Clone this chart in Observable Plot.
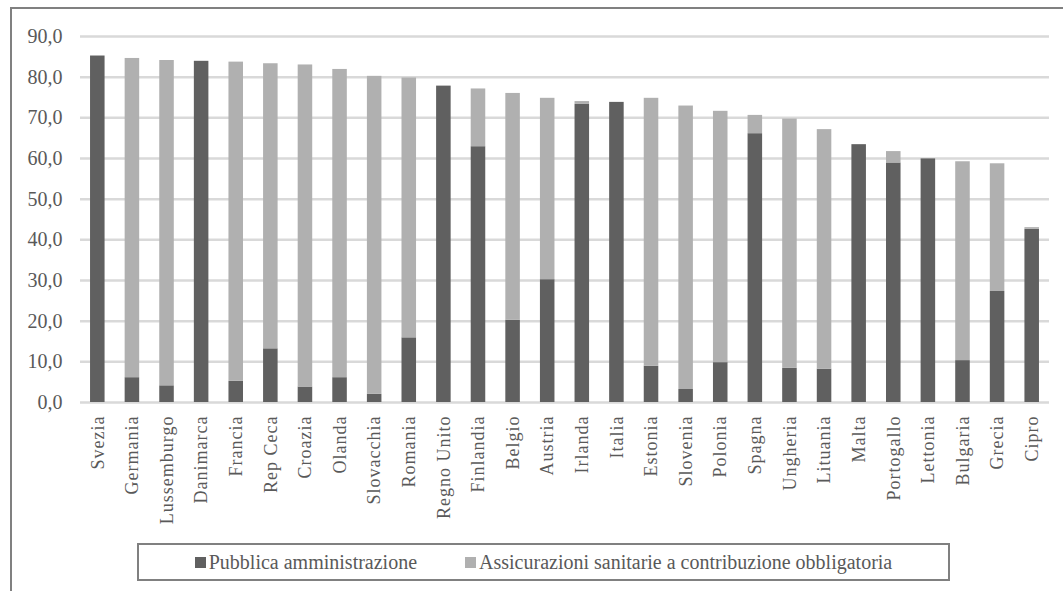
<!DOCTYPE html>
<html>
<head>
<meta charset="utf-8">
<script src="https://cdn.jsdelivr.net/npm/d3@7"></script>
<script src="https://cdn.jsdelivr.net/npm/@observablehq/plot@0.6"></script>
<style>
  html, body { margin: 0; padding: 0; background: #fff; }
  #wrap { position: relative; width: 1063px; height: 591px; overflow: hidden; font-family: "Liberation Serif", "Times New Roman", serif; }
  #frame { position: absolute; left: 10px; top: 7px; width: 1100px; height: 700px; border-left: 2px solid #808080; border-top: 2px solid #808080; box-sizing: border-box; }
  #chart { position: absolute; left: 0; top: 0; }
  #chart g[aria-label="x-axis tick label"] text { letter-spacing: 1px; }
  #legend { position: absolute; left: 137px; top: 543px; width: 813px; height: 38px; border: 2px solid #808080; box-sizing: border-box; display: flex; align-items: center; justify-content: center; gap: 48px; font-size: 20px; color: #595959; background: #fff; }
  .item { display: flex; align-items: center; }
  .sw { width: 11px; height: 11px; margin-right: 3px; }
</style>
</head>
<body>
<div id="wrap">
  <div id="frame"></div>
  <div id="chart"></div>
  <div id="legend"></div>
</div>
<script>
const countries = ["Svezia","Germania","Lussemburgo","Danimarca","Francia","Rep Ceca","Croazia","Olanda","Slovacchia","Romania","Regno Unito","Finlandia","Belgio","Austria","Irlanda","Italia","Estonia","Slovenia","Polonia","Spagna","Ungheria","Lituania","Malta","Portogallo","Lettonia","Bulgaria","Grecia","Cipro"];
const pubblica = [85.2,6.1,4.1,83.9,5.2,13.2,3.8,6.1,2.0,15.9,77.8,62.9,20.2,30.2,73.3,73.8,8.9,3.2,9.8,66.1,8.4,8.2,63.4,58.9,59.9,10.3,27.3,42.6];
const assicurazioni = [0,78.5,80.0,0,78.5,70.1,79.2,75.8,78.2,63.9,0,14.2,55.8,44.6,0.7,0,65.9,69.7,61.8,4.5,61.3,58.9,0,2.8,0,48.9,31.4,0.4];
const seriesNames = ["Pubblica amministrazione","Assicurazioni sanitarie a contribuzione obbligatoria"];
const seriesColors = ["#606060","#b0b0b0"];
const yTicks = [0,10,20,30,40,50,60,70,80,90];

const rows = [];
countries.forEach((c, i) => {
  rows.push({country: c, series: seriesNames[0], value: pubblica[i]});
  rows.push({country: c, series: seriesNames[1], value: assicurazioni[i]});
});

const fmt = d => d.toFixed(1).replace(".", ",");

const plot = Plot.plot({
  width: 1063,
  height: 540,
  marginLeft: 80,
  marginRight: 14,
  marginTop: 36,
  marginBottom: 138,
  style: {fontFamily: "'Liberation Serif', 'Times New Roman', serif", color: "#595959", background: "transparent"},
  x: {domain: countries, paddingInner: 0.58, paddingOuter: 0.29, round: false, label: null},
  y: {domain: [0, 90], label: null},
  color: {domain: seriesNames, range: seriesColors},
  marks: [
    Plot.ruleY(yTicks, {stroke: "#d9d9d9", strokeWidth: 2.5}),
    Plot.barY(rows, {x: "country", y: "value", fill: "series", order: seriesNames}),
    Plot.axisY({ticks: yTicks, tickFormat: fmt, tickSize: 0, tickPadding: 18, fontSize: 20, label: null}),
    Plot.axisX({tickRotate: -90, tickSize: 0, tickPadding: 13, fontSize: 18, label: null})
  ]
});
document.getElementById("chart").appendChild(plot);

const legend = document.getElementById("legend");
seriesNames.forEach((n, i) => {
  const it = document.createElement("div");
  it.className = "item";
  const sw = document.createElement("span");
  sw.className = "sw";
  sw.style.background = seriesColors[i];
  const t = document.createElement("span");
  t.textContent = n;
  it.appendChild(sw); it.appendChild(t);
  legend.appendChild(it);
});
</script>
</body>
</html>
